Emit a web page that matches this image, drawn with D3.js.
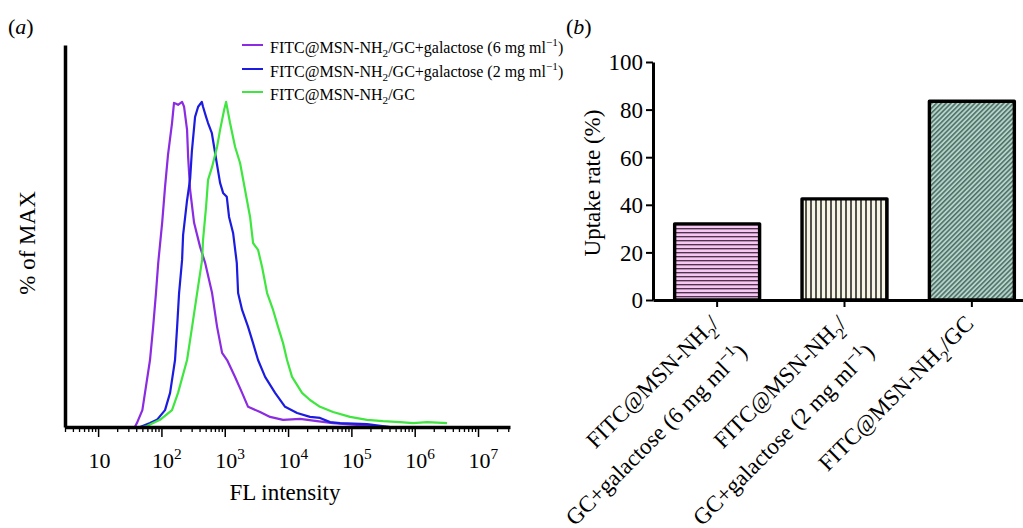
<!DOCTYPE html>
<html>
<head>
<meta charset="utf-8">
<script src="https://cdn.jsdelivr.net/npm/d3@7"></script>
<style>
  body { margin: 0; background: #fff; }
  svg { display: block; }
  svg text { font-family: "Liberation Serif", "Times New Roman", serif; }
</style>
</head>
<body>
<svg id="fig" width="1023" height="528"></svg>
<script>
// ---------- (a) flow cytometry histograms: [FL intensity, % of MAX] ----------
const seriesNames = [
  "FITC@MSN-NH_{2}/GC+galactose (6 mg ml^{−1})",
  "FITC@MSN-NH_{2}/GC+galactose (2 mg ml^{−1})",
  "FITC@MSN-NH_{2}/GC"
];
const seriesColors = ["#8b2be2", "#1c1ce0", "#3fe63f"];

const histGal6 = [
  [38, 0], [41, 1.2], [50, 5.2], [55, 10.5], [66, 20.6], [74, 30.8], [82, 41.2],
  [89, 50.5], [103, 63.1], [114, 73.8], [127, 83.7], [147, 93.5], [158, 99.7],
  [170, 99.4], [183, 99.1], [212, 100], [228, 98.5], [254, 91.4], [264, 83.1],
  [284, 72.9], [328, 62.8], [408, 55.4], [490, 50.5], [631, 41.2], [757, 30.8],
  [908, 22.8], [1089, 20.6], [1455, 15.4], [1880, 10.5], [2337, 6.2], [3614, 4.6],
  [5200, 3.1], [8340, 2.2], [15500, 2.5], [28700, 1.8], [51400, 1.2], [137000, 0.6],
  [408000, 0]
];
const histGal2 = [
  [46, 0], [66, 1.2], [85, 2.2], [114, 5.2], [137, 10.5], [164, 20.6], [177, 30.8],
  [190, 41.2], [212, 51.4], [220, 59.1], [252, 69.2], [284, 76.3], [302, 84.6],
  [340, 95.4], [380, 98.5], [434, 100], [454, 98.5], [507, 95.4], [545, 93.5],
  [624, 90.5], [679, 86.2], [748, 81.2], [844, 75.1], [942, 72], [1077, 70.8],
  [1170, 64.6], [1355, 59.7], [1549, 50.5], [1626, 41.2], [1880, 36], [2337, 30.8],
  [2800, 25.8], [3357, 20.6], [4340, 15.4], [6240, 10.5], [8980, 6.2], [13900, 4.3],
  [22200, 3.1], [32000, 2.8], [46000, 1.5], [66200, 1.2], [177000, 0.9], [408000, 0]
];
const histCtrl = [
  [50, 0], [59, 0.3], [74, 1.2], [95, 2.2], [147, 5.2], [183, 10.5], [254, 20.6],
  [305, 30.8], [366, 41.2], [439, 51.4], [454, 57.5], [507, 67.7], [545, 76],
  [631, 80], [757, 86.2], [844, 91.4], [977, 97.5], [1050, 100], [1213, 93.5],
  [1455, 86.2], [1746, 81.2], [2094, 72.9], [2512, 64.6], [2800, 56.6], [3357, 54.5],
  [3890, 49.2], [4667, 41.2], [5800, 36], [6950, 30.8], [8340, 25.8], [9640, 20.6],
  [11560, 15.4], [16630, 10.5], [22200, 8.3], [32000, 6.2], [51400, 4.6], [95300, 3.1],
  [177000, 2.2], [316000, 1.8], [587000, 1.5], [942000, 1.2], [1570000, 1.5],
  [3240000, 1.2]
];
const histograms = [histGal6, histGal2, histCtrl];
const flDecades = [10, 1e2, 1e3, 1e4, 1e5, 1e6, 1e7];

// ---------- (b) uptake rate bars ----------
const uptakeLabels = [
  ["FITC@MSN-NH_{2}/", "GC+galactose (6 mg ml^{−1})"],
  ["FITC@MSN-NH_{2}/", "GC+galactose (2 mg ml^{−1})"],
  ["FITC@MSN-NH_{2}/GC"]
];
const uptakeValues = [32, 42.5, 83.5];
const uptakeTicks = [0, 20, 40, 60, 80, 100];
const barPatterns = ["hatchH", "hatchV", "hatchD"];

const SERIF = "Liberation Serif, Times New Roman, serif";

// ---------- helpers ----------
// writes text with _{sub} and ^{sup} runs as shifted tspans
function richText(textSel, str, size) {
  const re = /([_^])\{([^}]*)\}/g;
  let last = 0, cur = 0, m;
  const push = (s, kind) => {
    if (!s) return;
    let target = 0, fs = size;
    if (kind === "_") { target = 0.3 * size; fs = 0.7 * size; }
    if (kind === "^") { target = -0.42 * size; fs = 0.7 * size; }
    textSel.append("tspan").attr("dy", target - cur).attr("font-size", fs).text(s);
    cur = target;
  };
  while ((m = re.exec(str)) !== null) {
    push(str.slice(last, m.index), null);
    push(m[2], m[1]);
    last = re.lastIndex;
  }
  push(str.slice(last), null);
}

const svg = d3.select("#fig");
svg.append("rect").attr("width", 1023).attr("height", 528).attr("fill", "#fff");

// ================= panel (a) =================
const xFL = d3.scaleLog().domain([3, 3.2e7]).range([65, 510]);
const yPct = d3.scaleLinear().domain([0, 117.5]).range([427, 45]);

const minorTicks = [];
for (let e = 0; e <= 7; e++) {
  for (let k = 2; k <= 9; k++) {
    const v = k * Math.pow(10, e);
    if (v >= 3 && v <= 3.2e7) minorTicks.push(v);
  }
}

const gA = svg.append("g");

// histogram traces
const line = d3.line().x(d => xFL(d[0])).y(d => yPct(d[1]));
histograms.forEach((h, i) => {
  gA.append("path").datum(h)
    .attr("d", line)
    .attr("fill", "none")
    .attr("stroke", seriesColors[i])
    .attr("stroke-width", 2.2)
    .attr("stroke-linejoin", "round");
});

// x axis: minor ticks
gA.append("g")
  .attr("transform", "translate(0,427)")
  .call(d3.axisBottom(xFL).tickValues(minorTicks).tickSize(5).tickSizeOuter(0).tickFormat(""))
  .call(g => g.select(".domain").remove())
  .call(g => g.selectAll(".tick line").attr("stroke", "#000").attr("stroke-width", 1.3));

// x axis: decades
const xAxisA = gA.append("g")
  .attr("transform", "translate(0,427)")
  .call(d3.axisBottom(xFL).tickValues(flDecades).tickSize(10).tickSizeOuter(0).tickFormat(""));
xAxisA.select(".domain").attr("stroke", "#000").attr("stroke-width", 3.5);
xAxisA.selectAll(".tick line").attr("stroke", "#000").attr("stroke-width", 1.5);
xAxisA.selectAll(".tick").each(function (d) {
  const exp = Math.round(Math.log10(d));
  const t = d3.select(this).append("text")
    .attr("x", -10).attr("y", 41)
    .attr("text-anchor", "start")
    .attr("fill", "#000")
    .attr("font-family", SERIF)
    .attr("font-size", 22);
  richText(t, exp === 1 ? "10" : "10^{" + exp + "}", 22);
});

// y axis (no ticks)
gA.append("g")
  .attr("transform", "translate(65,0)")
  .call(d3.axisLeft(yPct).tickValues([]).tickSizeOuter(0))
  .call(g => g.select(".domain").attr("stroke", "#000").attr("stroke-width", 3.5));

// axis titles
gA.append("text")
  .attr("x", 285).attr("y", 500)
  .attr("text-anchor", "middle").attr("font-size", 23).attr("font-family", SERIF)
  .text("FL intensity");
gA.append("text")
  .attr("transform", "translate(35,243) rotate(-90)")
  .attr("text-anchor", "middle").attr("font-size", 23).attr("font-family", SERIF)
  .text("% of MAX");

// panel tag
const tagA = gA.append("text").attr("x", 8).attr("y", 34).attr("font-size", 22).attr("font-family", SERIF);
tagA.append("tspan").text("(");
tagA.append("tspan").attr("font-style", "italic").text("a");
tagA.append("tspan").text(")");

// legend
const legendRows = [45, 69, 92];
seriesNames.forEach((name, i) => {
  const yy = legendRows[i];
  gA.append("line")
    .attr("x1", 242).attr("x2", 263).attr("y1", yy).attr("y2", yy)
    .attr("stroke", seriesColors[i]).attr("stroke-width", 2);
  const t = gA.append("text").attr("x", 270).attr("y", yy + 7.5)
    .attr("font-size", 16).attr("font-family", SERIF);
  richText(t, name, 16);
});

// ================= panel (b) =================
const defs = svg.append("defs");
// horizontal stripes
const pH = defs.append("pattern").attr("id", "hatchH")
  .attr("patternUnits", "userSpaceOnUse").attr("width", 8).attr("height", 4);
pH.append("rect").attr("width", 8).attr("height", 4).attr("fill", "#f4c8f0");
pH.append("line").attr("x1", 0).attr("x2", 8).attr("y1", 0.7).attr("y2", 0.7)
  .attr("stroke", "#4a2a48").attr("stroke-width", 1.3);
// vertical stripes
const pV = defs.append("pattern").attr("id", "hatchV")
  .attr("patternUnits", "userSpaceOnUse").attr("width", 5).attr("height", 8);
pV.append("rect").attr("width", 5).attr("height", 8).attr("fill", "#f7f6e6");
pV.append("line").attr("x1", 1).attr("x2", 1).attr("y1", 0).attr("y2", 8)
  .attr("stroke", "#2a2a26").attr("stroke-width", 1.6);
// diagonal stripes
const pD = defs.append("pattern").attr("id", "hatchD")
  .attr("patternUnits", "userSpaceOnUse").attr("width", 3.4).attr("height", 8)
  .attr("patternTransform", "rotate(45)");
pD.append("rect").attr("width", 3.4).attr("height", 8).attr("fill", "#b4d4ca");
pD.append("line").attr("x1", 0.8).attr("x2", 0.8).attr("y1", 0).attr("y2", 8)
  .attr("stroke", "#3b5a52").attr("stroke-width", 1.3);

const xBar = d3.scaleBand().domain(d3.range(uptakeValues.length))
  .range([653, 1036]).paddingInner(0.333).paddingOuter(0.17);
const yRate = d3.scaleLinear().domain([0, 100]).range([300, 62]);

const gB = svg.append("g");

gB.selectAll("rect.bar").data(uptakeValues).join("rect")
  .attr("class", "bar")
  .attr("x", (d, i) => xBar(i))
  .attr("width", xBar.bandwidth())
  .attr("y", d => yRate(d))
  .attr("height", d => yRate(0) - yRate(d))
  .attr("fill", (d, i) => `url(#${barPatterns[i]})`)
  .attr("stroke", "#000")
  .attr("stroke-width", 3.4)
  .attr("stroke-linejoin", "round");

// y axis
const yAxisB = gB.append("g")
  .attr("transform", "translate(653,0)")
  .call(d3.axisLeft(yRate).tickValues(uptakeTicks).tickSize(7).tickSizeOuter(0).tickPadding(3));
yAxisB.attr("font-family", SERIF).attr("font-size", 23);
yAxisB.select(".domain").attr("stroke", "#000").attr("stroke-width", 3);
yAxisB.selectAll(".tick line").attr("stroke", "#000").attr("stroke-width", 2);
yAxisB.selectAll(".tick text")
  .attr("font-family", SERIF).attr("font-size", 23).attr("fill", "#000").attr("dy", "0.34em");

// x axis
const xAxisB = gB.append("g")
  .attr("transform", "translate(0,300)")
  .call(d3.axisBottom(xBar).tickSize(7).tickSizeOuter(0).tickFormat(""));
xAxisB.select(".domain").attr("stroke", "#000").attr("stroke-width", 3);
xAxisB.selectAll(".tick line").attr("stroke", "#000").attr("stroke-width", 2);

// rotated category labels
uptakeLabels.forEach((lines, i) => {
  const cx = xBar(i) + xBar.bandwidth() / 2;
  const g = gB.append("g").attr("transform", `translate(${cx + 3},325) rotate(-45)`);
  lines.forEach((ln, j) => {
    const t = g.append("text").attr("x", 0).attr("y", j * 40)
      .attr("text-anchor", "end").attr("font-size", 23).attr("font-family", SERIF);
    richText(t, ln, 23);
  });
});

// axis title
gB.append("text")
  .attr("transform", "translate(600,183) rotate(-90)")
  .attr("text-anchor", "middle").attr("font-size", 23).attr("font-family", SERIF)
  .text("Uptake rate (%)");

// panel tag
const tagB = gB.append("text").attr("x", 566).attr("y", 34).attr("font-size", 22).attr("font-family", SERIF);
tagB.append("tspan").text("(");
tagB.append("tspan").attr("font-style", "italic").text("b");
tagB.append("tspan").text(")");
</script>
</body>
</html>
